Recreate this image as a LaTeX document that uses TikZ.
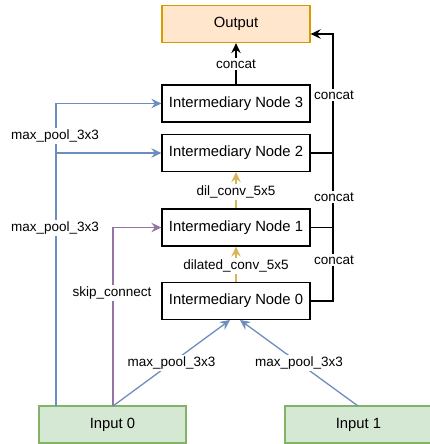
\documentclass[tikz,border=0pt]{standalone}
\usepackage{fontspec}
\setmainfont{Liberation Sans}
\usetikzlibrary{arrows.meta,calc}
\definecolor{outfill}{HTML}{FFE6CC}
\definecolor{outdraw}{HTML}{D79B00}
\definecolor{infill}{HTML}{D5E8D4}
\definecolor{indraw}{HTML}{82B366}
\definecolor{blueln}{HTML}{6C8EBF}
\definecolor{yellowln}{HTML}{D6B656}
\definecolor{purpleln}{HTML}{9673A6}
\tikzset{
  box/.style={draw=black, line width=1.3pt, minimum width=148pt, minimum height=37pt, inner sep=0pt, text height=0.716em, text depth=0pt, font=\fontsize{14.8}{17}\selectfont},
  outbox/.style={box, draw=outdraw, fill=outfill},
  inbox/.style={box, draw=indraw, fill=infill, minimum width=147pt},
  lbl/.style={fill=white, inner sep=1.5pt, font=\fontsize{13.5}{15}\selectfont},
  conn/.style={line width=1.3pt},
  tip/.style={-{Stealth[length=10pt,width=9.5pt,inset=3.5pt]}},
}
\begin{document}
\begin{tikzpicture}[x=1pt,y=-1pt]
\useasboundingbox (0,0) rectangle (429,444);
% nodes
\node[outbox] (out) at (236,24) {Output};
\node[box] (n3) at (236,103.5) {Intermediary Node 3};
\node[box] (n2) at (236,153) {Intermediary Node 2};
\node[box] (n1) at (236,227.5) {Intermediary Node 1};
\node[box] (n0) at (236,301) {Intermediary Node 0};
\node[inbox] (in0) at (112.5,424.5) {Input 0};
\node[inbox] (in1) at (358.5,424.5) {Input 1};
% helper coordinates
\coordinate (outin) at ($(out.east)+(0,10)$);
\coordinate (trunktop) at (333,34);
\coordinate (trunkbot) at (333,301);
\coordinate (t1) at (333,227.5);
\coordinate (t2) at (333,153);
\coordinate (b0) at (56,406);
\coordinate (b3) at (56,103.5);
\coordinate (b2) at (56,153);
\coordinate (p0) at (113,406);
\coordinate (p1) at (113,227.5);
\coordinate (n0a) at (230,320);
\coordinate (n0b) at (240,320);
\coordinate (in1t) at (358,406);
% concat top
\draw[conn,tip] (n3.north) -- node[lbl,pos=0.5]{concat} (out.south);
% right trunk
\draw[conn,tip] (n0.east) -- (trunkbot) -- (trunktop) -- (outin);
\draw[conn] (n1.east) -- (t1);
\draw[conn] (n2.east) -- (t2);
\node[lbl] (c1) at (334,95) {concat};
\node[lbl] (c2) at (334,197) {concat};
\node[lbl] (c3) at (334,260) {concat};
% yellow
\draw[conn,draw=yellowln,tip] (n1.north) -- node[lbl,pos=0.45]{dil\_conv\_5x5} (n2.south);
\draw[conn,draw=yellowln,tip] (n0.north) -- node[lbl,pos=0.45]{dilated\_conv\_5x5} (n1.south);
% blue left
\draw[conn,draw=blueln,tip] (b0) -- (b3) -- (n3.west);
\draw[conn,draw=blueln,tip] (b2) -- (n2.west);
\node[lbl] (m1) at (55,136) {max\_pool\_3x3};
\node[lbl] (m2) at (55,228) {max\_pool\_3x3};
% purple
\draw[conn,draw=purpleln,tip] (p0) -- (p1) -- (n1.west);
\node[lbl] (sk) at (112,293) {skip\_connect};
% diagonals
\draw[conn,draw=blueln,tip] (p0) -- node[lbl,pos=0.5]{max\_pool\_3x3} (n0a);
\draw[conn,draw=blueln,tip] (in1t) -- node[lbl,pos=0.5]{max\_pool\_3x3} (n0b);
\end{tikzpicture}
\end{document}
